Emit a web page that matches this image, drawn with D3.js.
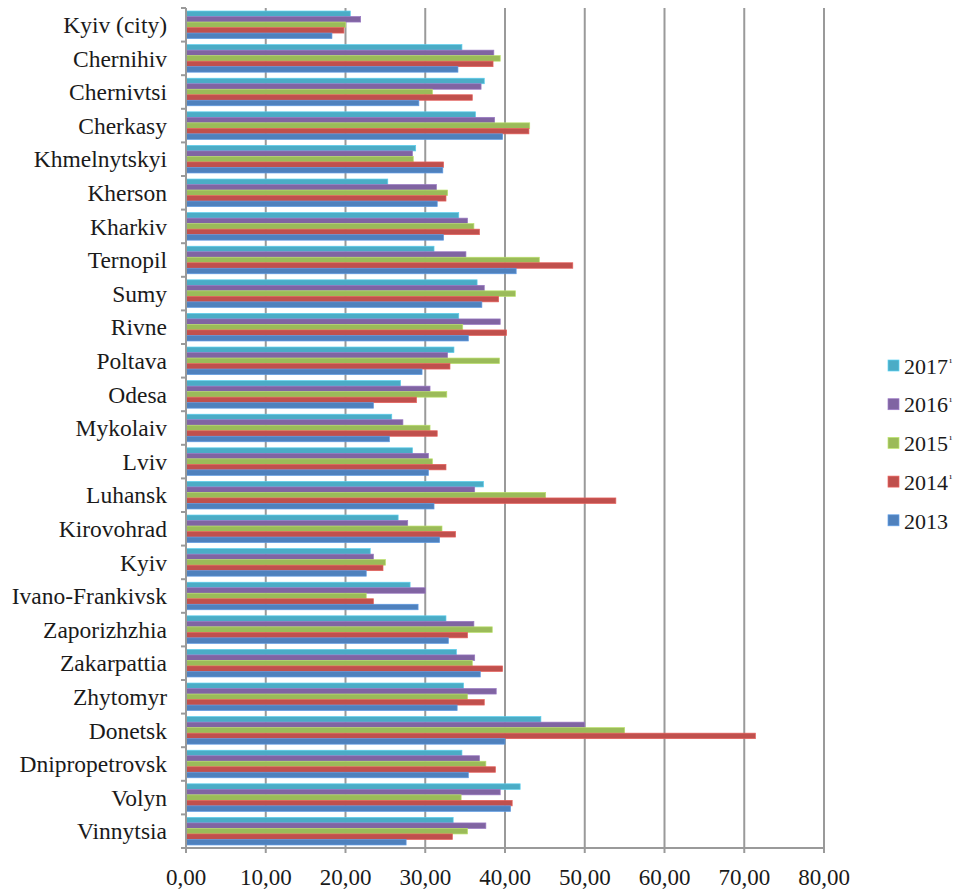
<!DOCTYPE html>
<html>
<head>
<meta charset="utf-8">
<script src="https://cdn.jsdelivr.net/npm/d3@7"></script>
<style>
  html, body { margin: 0; padding: 0; background: #fff; }
  svg { display: block; }
</style>
</head>
<body>
<svg id="chart" width="963" height="890" font-family="'Liberation Serif', 'DejaVu Serif', 'Times New Roman', serif"></svg>
<script>
// Regions, top to bottom
const regions = [
  "Kyiv (city)", "Chernihiv", "Chernivtsi", "Cherkasy", "Khmelnytskyi",
  "Kherson", "Kharkiv", "Ternopil", "Sumy", "Rivne",
  "Poltava", "Odesa", "Mykolaiv", "Lviv", "Luhansk",
  "Kirovohrad", "Kyiv", "Ivano-Frankivsk", "Zaporizhzhia", "Zakarpattia",
  "Zhytomyr", "Donetsk", "Dnipropetrovsk", "Volyn", "Vinnytsia"
];

// Series, in the order the bars are stacked inside each group (top first)
const seriesNames = ["2017", "2016", "2015", "2014", "2013"];
const seriesNotes = ["¹", "¹", "¹", "¹", ""];
const seriesColors = ["#4bacc6", "#8064a2", "#9bbb59", "#c0504d", "#4f81bd"];

const v2017 = [20.6, 34.6, 37.4, 36.3, 28.8, 25.3, 34.2, 31.1, 36.5, 34.2,
               33.6, 26.9, 25.8, 28.4, 37.3, 26.6, 23.1, 28.1, 32.6, 33.9,
               34.8, 44.5, 34.6, 41.9, 33.5];
const v2016 = [21.9, 38.6, 37.0, 38.7, 28.4, 31.4, 35.3, 35.1, 37.4, 39.4,
               32.8, 30.6, 27.2, 30.4, 36.2, 27.8, 23.5, 30.0, 36.1, 36.2,
               38.9, 50.0, 36.8, 39.4, 37.6];
const v2015 = [20.0, 39.4, 30.9, 43.1, 28.5, 32.8, 36.1, 44.3, 41.3, 34.7,
               39.3, 32.7, 30.6, 30.9, 45.1, 32.1, 25.0, 22.6, 38.4, 35.9,
               35.3, 55.0, 37.6, 34.5, 35.3];
const v2014 = [19.8, 38.5, 35.9, 43.0, 32.3, 32.6, 36.8, 48.5, 39.2, 40.2,
               33.1, 28.9, 31.5, 32.6, 53.9, 33.8, 24.7, 23.5, 35.3, 39.7,
               37.4, 71.4, 38.8, 40.9, 33.4];
const v2013 = [18.3, 34.1, 29.2, 39.7, 32.2, 31.5, 32.3, 41.4, 37.1, 35.4,
               29.6, 23.5, 25.5, 30.4, 31.1, 31.8, 22.6, 29.1, 32.9, 36.9,
               34.0, 40.0, 35.4, 40.7, 27.6];
const seriesValues = [v2017, v2016, v2015, v2014, v2013];

const xTicks = [0, 10, 20, 30, 40, 50, 60, 70, 80];

// Layout
const plot = { left: 186, right: 824, top: 8, bottom: 848 };
const svg = d3.select("#chart");
const gridColor = "#9a9a9a";
const textColor = "#1a1a1a";

const x = d3.scaleLinear().domain([0, 80]).range([plot.left, plot.right]);
const y = d3.scaleBand().domain(regions).range([plot.top, plot.bottom]).padding(0);
const ySub = d3.scaleBand().domain(seriesNames).range([0, y.bandwidth()])
  .paddingInner(0).paddingOuter(0.55);

// Vertical gridlines
svg.append("g").selectAll("line")
  .data(xTicks.filter(t => t > 0))
  .join("line")
  .attr("x1", d => x(d)).attr("x2", d => x(d))
  .attr("y1", plot.top).attr("y2", plot.bottom)
  .attr("stroke", gridColor).attr("stroke-width", 2);

// Bars
const rows = regions.map((r, i) => ({
  region: r,
  values: seriesNames.map((s, k) => ({ series: s, k, value: seriesValues[k][i] }))
}));

const groups = svg.append("g").selectAll("g")
  .data(rows)
  .join("g")
  .attr("transform", d => `translate(0,${y(d.region)})`);

groups.selectAll("rect")
  .data(d => d.values)
  .join("rect")
  .attr("x", x(0))
  .attr("y", d => ySub(d.series))
  .attr("width", d => x(d.value) - x(0))
  .attr("height", ySub.bandwidth())
  .attr("fill", d => seriesColors[d.k])
  .attr("stroke", d => d3.color(seriesColors[d.k]).brighter(0.5))
  .attr("stroke-width", 0.7);

// Category axis (left)
const yAxis = svg.append("g");
yAxis.append("line")
  .attr("x1", plot.left).attr("x2", plot.left)
  .attr("y1", plot.top).attr("y2", plot.bottom + 5)
  .attr("stroke", gridColor).attr("stroke-width", 2);
const boundaries = regions.map(r => y(r)).concat([plot.bottom]);
yAxis.selectAll("line.tick")
  .data(boundaries)
  .join("line")
  .attr("class", "tick")
  .attr("x1", plot.left - 5).attr("x2", plot.left)
  .attr("y1", d => d).attr("y2", d => d)
  .attr("stroke", gridColor).attr("stroke-width", 2);
yAxis.selectAll("text")
  .data(regions)
  .join("text")
  .attr("x", 167)
  .attr("y", d => y(d) + y.bandwidth() / 2)
  .attr("dy", "0.35em")
  .attr("text-anchor", "end")
  .attr("font-size", 23.5)
  .attr("fill", textColor)
  .text(d => d);

// Value axis (bottom)
const xAxis = svg.append("g");
xAxis.append("line")
  .attr("x1", plot.left).attr("x2", plot.right)
  .attr("y1", plot.bottom).attr("y2", plot.bottom)
  .attr("stroke", gridColor).attr("stroke-width", 2);
xAxis.selectAll("line.tick")
  .data(xTicks)
  .join("line")
  .attr("class", "tick")
  .attr("x1", d => x(d)).attr("x2", d => x(d))
  .attr("y1", plot.bottom).attr("y2", plot.bottom + 5)
  .attr("stroke", gridColor).attr("stroke-width", 2);
xAxis.selectAll("text")
  .data(xTicks)
  .join("text")
  .attr("x", d => x(d))
  .attr("y", 885)
  .attr("text-anchor", "middle")
  .attr("font-size", 23)
  .attr("fill", textColor)
  .text(d => d3.format(".2f")(d).replace(".", ","));

// Legend
const legend = svg.append("g").attr("transform", "translate(888,366)");
const item = legend.selectAll("g")
  .data(seriesNames)
  .join("g")
  .attr("transform", (d, i) => `translate(0,${i * 38.7})`);
item.append("rect")
  .attr("x", 0).attr("y", -6)
  .attr("width", 11).attr("height", 11)
  .attr("fill", (d, i) => seriesColors[i])
  .attr("stroke", (d, i) => d3.color(seriesColors[i]).brighter(0.6))
  .attr("stroke-width", 0.7);
const lt = item.append("text")
  .attr("x", 16).attr("y", 0)
  .attr("dy", "0.35em")
  .attr("font-size", 22)
  .attr("fill", textColor);
lt.append("tspan").text(d => d);
lt.append("tspan")
  .attr("font-size", 11)
  .attr("dy", "-0.7em")
  .attr("dx", 1)
  .text((d, i) => seriesNotes[i]);
</script>
</body>
</html>
